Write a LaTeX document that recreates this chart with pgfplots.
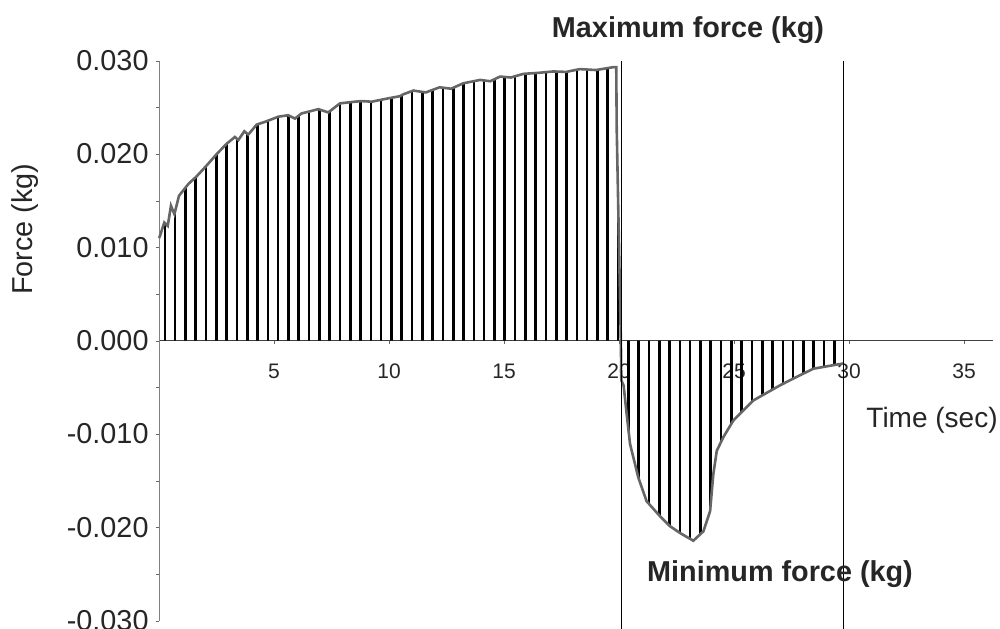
\documentclass[border=0pt]{standalone}
\usepackage{pgfplots}
\pgfplotsset{compat=1.18}
\usepackage{pgfplotstable}
\usepackage{fontspec}
\setmainfont{Liberation Sans}
\usetikzlibrary{patterns.meta}

\pgfplotstableread{
x y
0.00 0.0110
0.04 0.01122
0.23 0.01266
0.38 0.0123
0.52 0.01446
0.67 0.01356
0.87 0.01553
1.28 0.0168
1.64 0.01762
2.07 0.01877
2.51 0.0200
2.94 0.0211
3.30 0.02183
3.45 0.0215
3.71 0.02244
3.88 0.02208
4.25 0.02316
4.61 0.02345
5.19 0.0240
5.62 0.02416
5.91 0.0238
6.20 0.02435
6.93 0.02481
7.36 0.02446
7.87 0.02543
8.52 0.02561
8.81 0.02567
9.25 0.02561
9.97 0.02597
10.48 0.0262
10.62 0.0264
11.06 0.0268
11.60 0.0266
12.20 0.02715
12.70 0.0270
13.23 0.02758
13.96 0.02794
14.40 0.0278
14.83 0.0283
15.30 0.0282
15.84 0.02859
16.50 0.0287
17.14 0.02885
17.70 0.0288
18.30 0.0291
19.00 0.0290
19.75 0.02931
19.88 0.0293
19.90 0.0227
20.08 0.0
20.10 -0.00424
20.20 -0.0048
20.33 -0.0078
20.48 -0.01107
20.84 -0.01467
21.20 -0.0172
21.78 -0.0188
22.22 -0.01988
22.65 -0.0206
23.23 -0.02143
23.67 -0.02042
23.96 -0.01826
24.10 -0.0143
24.25 -0.0118
24.53 -0.01036
24.97 -0.00855
25.84 -0.0064
27.00 -0.00478
27.72 -0.00388
28.45 -0.0030
29.32 -0.00262
29.75 -0.00244
}\curve

\begin{document}
\begin{tikzpicture}
\useasboundingbox (0,0) rectangle (500pt,314pt);
\begin{axis}[
  at={(79.5pt,3.65pt)}, anchor=south west,
  scale only axis, width=417pt, height=280pt,
  xmin=0, xmax=36.26, ymin=-0.03, ymax=0.03,
  axis lines=middle,
  axis line style={-},
  x axis line style={draw=black!75},
  y axis line style={draw=black!50},
  hide obscured x ticks=false, hide obscured y ticks=false,
  xtick={5,10,15,20,25,30,35},
  ytick={-0.03,-0.02,-0.01,0,0.01,0.02,0.03},
  minor ytick={-0.025,-0.015,-0.005,0.005,0.015,0.025},
  scaled y ticks=false,
  tick align=outside,
  major tick length=1.7pt, minor tick length=1.7pt,
  tick style={black!60},
  /pgf/number format/assume math mode=true,
  yticklabel style={font=\fontsize{14.4}{16}\selectfont, text=black!85, /pgf/number format/.cd, fixed, fixed zerofill, precision=3},
  xticklabel style={font=\fontsize{10.5}{12}\selectfont, text=black!85, yshift=-6.5pt},
  clip=false,
]
\addplot[draw=none, pattern={Lines[angle=90,distance=5.15pt,line width=1.3pt]}, pattern color=black] table[x=x,y=y]{\curve} \closedcycle;
\addplot[black!60, line width=1.3pt] table[x=x,y=y]{\curve};
\addplot[black, line width=0.5pt] coordinates {(20.1,-0.031) (20.1,0.030)};
\addplot[black, line width=0.5pt] coordinates {(29.74,-0.031) (29.74,0.030)};
\node[font=\bfseries\fontsize{14.4}{17}\selectfont, text=black!85, anchor=base] at (axis cs:23.0,0.03251) {Maximum force (kg)};
\node[font=\bfseries\fontsize{14.4}{17}\selectfont, text=black!85, anchor=base] at (axis cs:27.0,-0.02581) {Minimum force (kg)};
\node[font=\fontsize{14}{17}\selectfont, text=black!85, anchor=base west, inner sep=0pt] at (axis cs:30.74,-0.00931) {Time (sec)};
\node[rotate=90, font=\fontsize{14.4}{17}\selectfont, text=black!85, anchor=center] at (axis cs:-5.83,0.01194) {Force (kg)};
\end{axis}
\end{tikzpicture}
\end{document}
